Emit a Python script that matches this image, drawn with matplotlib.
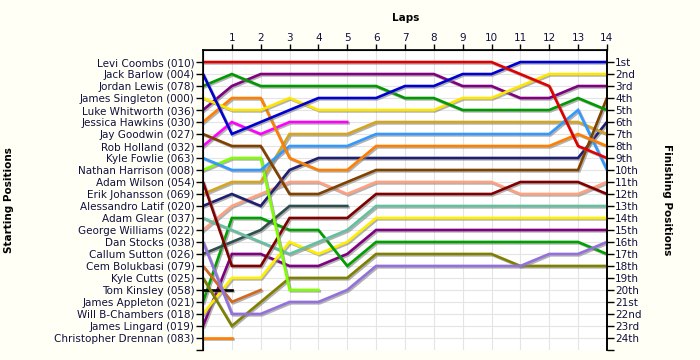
import numpy as np
import matplotlib
matplotlib.use("Agg")
import matplotlib.pyplot as plt
import matplotlib.patheffects as pe

# drivers in starting order
drivers = ["Levi Coombs (010)", "Jack Barlow (004)", "Jordan Lewis (078)",
           "James Singleton (000)", "Luke Whitworth (036)", "Jessica Hawkins (030)",
           "Jay Goodwin (027)", "Rob Holland (032)", "Kyle Fowlie (063)",
           "Nathan Harrison (008)", "Adam Wilson (054)", "Erik Johansson (069)",
           "Alessandro Latif (020)", "Adam Glear (037)", "George Williams (022)",
           "Dan Stocks (038)", "Callum Sutton (026)", "Cem Bolukbasi (079)",
           "Kyle Cutts (025)", "Tom Kinsley (058)", "James Appleton (021)",
           "Will B-Chambers (018)", "James Lingard (019)", "Christopher Drennan (083)"]

# position at lap 0..n (shorter list = retired)
levi = [1, 1, 1, 1, 1, 1, 1, 1, 1, 1, 1, 2, 3, 8, 9]
jack = [2, 7, 6, 5, 4, 4, 4, 3, 3, 2, 2, 1, 1, 1, 1]
jordan = [3, 2, 3, 3, 3, 3, 3, 4, 4, 5, 5, 5, 5, 4, 5]
singleton = [4, 5, 5, 4, 5, 5, 5, 5, 5, 4, 4, 3, 2, 2, 2]
whitworth = [5, 3, 2, 2, 2, 2, 2, 2, 2, 3, 3, 4, 4, 3, 3]
hawkins = [6, 4, 4, 9, 10, 10, 8, 8, 8, 8, 8, 8, 8, 7, 8]
goodwin = [7, 8, 8, 12, 12, 11, 10, 10, 10, 10, 10, 10, 10, 10, 4]
holland = [8, 6, 7, 6, 6, 6]
fowlie = [9, 10, 10, 8, 8, 8, 7, 7, 7, 7, 7, 7, 7, 5, 10]
harrison = [10, 9, 9, 20, 20]
wilson = [11, 18, 18, 14, 14, 14, 12, 12, 12, 12, 12, 11, 11, 11, 12]
johansson = [12, 11, 11, 7, 7, 7, 6, 6, 6, 6, 6, 6, 6, 6, 7]
latif = [13, 12, 13, 10, 9, 9, 9, 9, 9, 9, 9, 9, 9, 9, 6]
glear = [14, 15, 16, 17, 16, 15, 13, 13, 13, 13, 13, 13, 13, 13, 13]
williams = [15, 13, 12, 11, 11, 12, 11, 11, 11, 11, 11, 12, 12, 12, 11]
stocks = [16, 22, 22, 21, 21, 20, 18, 18, 18, 18, 18, 18, 17, 17, 16]
sutton = [17, 16, 15, 13, 13, 13]
bolukbasi = [18, 21, 20]
cutts = [19, 23, 21, 19, 19, 19, 17, 17, 17, 17, 17, 18, 18, 18, 18]
kinsley = [20, 20]
appleton = [21, 14, 14, 15, 15, 18, 16, 16, 16, 16, 16, 16, 16, 16, 17]
chambers = [22, 19, 19, 16, 17, 16, 14, 14, 14, 14, 14, 14, 14, 14, 14]
lingard = [23, 17, 17, 18, 18, 17, 15, 15, 15, 15, 15, 15, 15, 15, 15]
drennan = [24, 24]

positions = [levi, jack, jordan, singleton, whitworth, hawkins, goodwin, holland,
             fowlie, harrison, wilson, johansson, latif, glear, williams, stocks,
             sutton, bolukbasi, cutts, kinsley, appleton, chambers, lingard, drennan]

colors = ['#e00000', '#0000d0', '#009900', '#ffe600', '#800080', '#ff8000',
          '#804000', '#ff00ff', '#3399ff', '#80ff00', '#800000', '#d4a520',
          '#202070', '#66c0a0', '#ffa080', '#9370db', '#2f4f4f', '#d2691e',
          '#808000', '#000000', '#00a000', '#ffee00', '#800080', '#ff8000']

finish_labels = ["1st", "2nd", "3rd"] + [f"{i}th" for i in range(4, 21)] + \
                ["21st", "22nd", "23rd", "24th"]

n_laps = 14
bg = '#fffff5'
txt = '#101040'

fig = plt.figure(figsize=(7, 3.6), dpi=100, facecolor=bg)
ax = fig.add_axes([0.29, 0.028, 0.577, 0.833])
ax.set_facecolor('white')

shadow = [pe.SimpleLineShadow(offset=(1, -1), shadow_color='#808080', alpha=0.6),
          pe.Normal()]
for pos, c in zip(positions[::-1], colors[::-1]):
    ax.plot(range(len(pos)), pos, color=c, lw=1.9, solid_joinstyle='miter',
            path_effects=shadow, zorder=3)

ax.set_xlim(0, n_laps)
ax.set_ylim(25, 0)

# grid
for k in range(1, 25):
    ax.axhline(k, color='#e4e4e4', lw=0.8, zorder=0)
for k in range(1, n_laps):
    ax.axvline(k, color='#e4e4e4', lw=0.8, zorder=0)

ax.spines['bottom'].set_visible(False)
for s in ['left', 'right', 'top']:
    ax.spines[s].set_linewidth(1.2)

ax.xaxis.tick_top()
ax.set_xticks(range(1, n_laps + 1))
ax.tick_params(axis='x', length=4, width=1, labelsize=7.5, labelcolor=txt, pad=1)

ax.set_yticks(list(range(1, 25)) + [25])
ax.set_yticklabels(drivers + [""])
ax.tick_params(axis='y', length=5, width=1, labelsize=7.5, labelcolor=txt, pad=1)

ax2 = ax.twinx()
ax2.set_ylim(25, 0)
ax2.set_yticks(list(range(1, 25)) + [25])
ax2.set_yticklabels(finish_labels + [""])
ax2.tick_params(axis='y', length=5, width=1, labelsize=7.5, labelcolor=txt, pad=1)
ax2.spines['bottom'].set_visible(False)
ax2.spines['right'].set_linewidth(1.2)

fig.text(0.579, 0.95, "Laps", ha='center', va='center', fontsize=7.5, fontweight='bold')
fig.text(0.013, 0.445, "Starting Positions", rotation=90, ha='center', va='center',
         fontsize=7.5, fontweight='bold')
fig.text(0.953, 0.445, "Finishing Positions", rotation=-90, ha='center', va='center',
         fontsize=7.5, fontweight='bold')

fig.savefig("out.png", dpi=100, facecolor=bg)
